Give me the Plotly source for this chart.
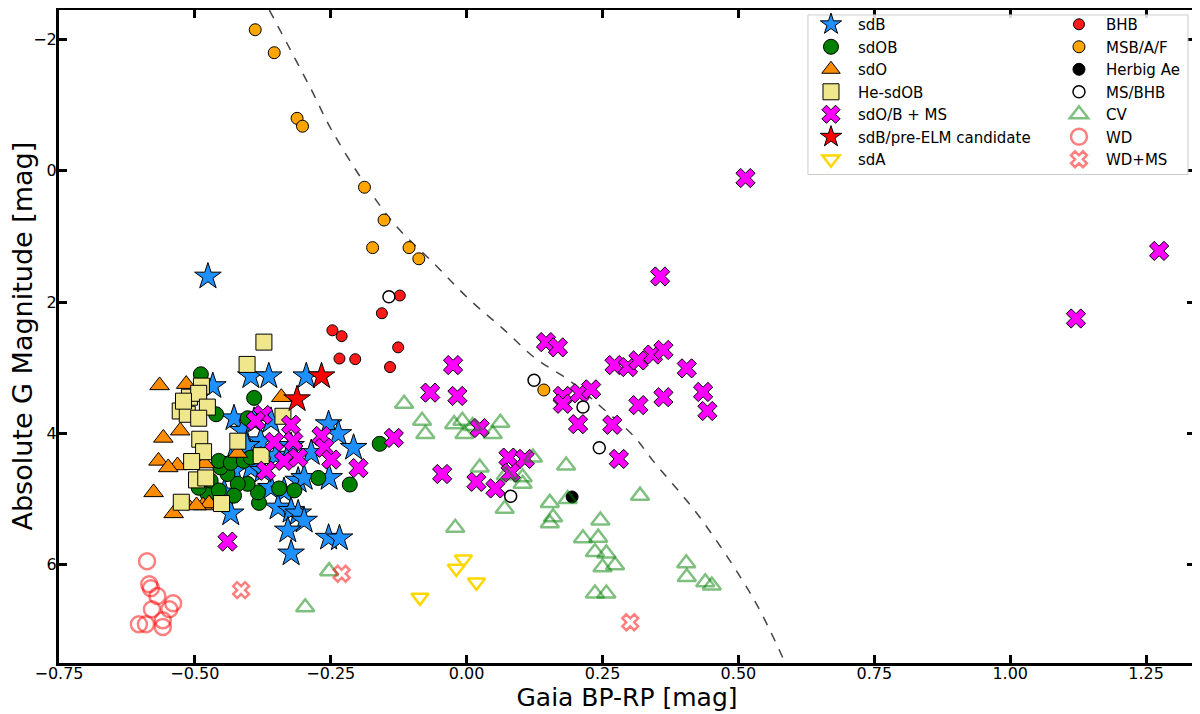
import plotly.graph_objects as go

# ---- data ---------------------------------------------------------------
sdb_x = [-0.476, -0.397, -0.364, -0.295, -0.467, -0.428, -0.412, -0.391, -0.360, -0.254,
         -0.236, -0.208, -0.286, -0.434, -0.428, -0.397, -0.360, -0.336, -0.310, -0.299,
         -0.253, -0.434, -0.347, -0.323, -0.310, -0.299, -0.329, -0.254, -0.234, -0.323,
         -0.446, -0.379, -0.351, -0.405, -0.323, -0.375]
sdb_y = [1.61, 3.13, 3.13, 3.13, 3.28, 3.77, 3.96, 3.81, 3.81, 3.86,
         4.01, 4.22, 4.30, 4.42, 4.57, 4.53, 4.83, 4.88, 4.72, 4.68,
         4.68, 5.22, 5.13, 5.18, 5.22, 5.33, 5.48, 5.59, 5.60, 5.83,
         4.90, 4.12, 4.34, 4.19, 4.19, 4.57]

sdob_x = [-0.489, -0.461, -0.391, -0.403, -0.160, -0.215, -0.273, -0.317, -0.345, -0.382,
          -0.384, -0.403, -0.421, -0.440, -0.453, -0.456, -0.434, -0.410, -0.397, -0.477,
          -0.471, -0.428, -0.456, -0.493]
sdob_y = [3.10, 3.71, 3.46, 3.77, 4.16, 4.78, 4.68, 4.87, 4.84, 5.06,
          4.90, 4.77, 4.77, 4.62, 4.52, 4.42, 4.45, 4.42, 4.37, 4.92,
          4.72, 4.95, 4.87, 4.83]

sdo_x = [-0.565, -0.516, -0.558, -0.567, -0.532, -0.549, -0.527, -0.576, -0.539, -0.485,
         -0.474, -0.341, -0.421, -0.516, -0.497, -0.482]
sdo_y = [3.27, 3.25, 4.07, 4.42, 4.49, 4.52, 3.96, 4.90, 5.22, 5.10,
         5.07, 3.45, 4.30, 5.07, 5.10, 4.46]

hesdob_x = [-0.373, -0.404, -0.488, -0.510, -0.493, -0.477, -0.527, -0.514, -0.493, -0.491,
            -0.484, -0.506, -0.497, -0.480, -0.421, -0.378, -0.338, -0.525, -0.451, -0.521]
hesdob_y = [2.61, 2.95, 3.28, 3.45, 3.39, 3.60, 3.66, 3.71, 3.77, 4.09,
            4.28, 4.43, 4.71, 4.68, 4.12, 4.34, 3.74, 5.05, 5.07, 3.51]

sdobms_x = [0.513, 1.274, 1.121, 0.356, 0.146, 0.168, -0.025, -0.067, -0.017, 0.272,
            0.297, 0.316, 0.343, 0.362, 0.405, 0.177, 0.177, 0.208, 0.229, 0.316,
            0.362, 0.435, 0.443, 0.205, 0.268, 0.280, 0.024, -0.134, 0.077, 0.107,
            0.081, -0.045, 0.018, 0.053, -0.375, -0.388, -0.323, -0.354, -0.319, -0.267,
            -0.262, -0.249, -0.336, -0.310, -0.369, -0.199, -0.440]
sdobms_y = [0.11, 1.22, 2.25, 1.61, 2.61, 2.69, 2.96, 3.38, 3.43, 2.96,
            2.99, 2.89, 2.80, 2.73, 3.01, 3.43, 3.55, 3.39, 3.33, 3.57,
            3.45, 3.37, 3.66, 3.86, 3.87, 4.39, 3.92, 4.07, 4.37, 4.39,
            4.60, 4.62, 4.74, 4.84, 3.72, 3.81, 3.87, 4.13, 4.12, 4.04,
            4.22, 4.40, 4.42, 4.37, 4.57, 4.53, 5.65]

elm_x = [-0.267, -0.312]
elm_y = [3.13, 3.48]

sda_x = [-0.006, -0.019, 0.018, -0.086]
sda_y = [5.92, 6.06, 6.27, 6.50]

bhb_x = [-0.247, -0.230, -0.234, -0.205, -0.156, -0.123, -0.126, -0.141]
bhb_y = [2.43, 2.52, 2.86, 2.87, 2.17, 1.90, 2.69, 2.99]

msbaf_x = [-0.389, -0.354, -0.312, -0.302, -0.188, -0.152, -0.173, -0.106, -0.088, 0.142]
msbaf_y = [-2.15, -1.80, -0.80, -0.68, 0.25, 0.75, 1.17, 1.17, 1.34, 3.34]

herbig_x = [0.194]
herbig_y = [4.97]

msbhb_x = [-0.143, 0.124, 0.214, 0.244, 0.081]
msbhb_y = [1.92, 3.19, 3.60, 4.22, 4.96]

cv_x = [-0.115, -0.082, -0.076, -0.023, -0.008, -0.004, 0.011, 0.048, 0.062, 0.024,
        0.072, 0.103, 0.122, 0.103, 0.183, 0.153, 0.186, 0.070, -0.021, 0.159,
        0.153, 0.246, 0.214, 0.242, 0.236, 0.257, 0.273, 0.250, 0.319, 0.404,
        0.405, 0.439, 0.451, 0.236, 0.257, -0.297, -0.253]
cv_y = [3.55, 3.81, 4.01, 3.86, 3.81, 4.01, 3.89, 4.01, 3.84, 4.52,
        4.64, 4.67, 4.37, 4.77, 4.49, 5.06, 5.00, 5.15, 5.44, 5.28,
        5.37, 5.33, 5.60, 5.59, 5.81, 5.83, 6.01, 6.04, 4.95, 5.98,
        6.19, 6.27, 6.32, 6.44, 6.44, 6.65, 6.10]

wd_x = [-0.588, -0.584, -0.581, -0.569, -0.540, -0.547, -0.579, -0.603, -0.590, -0.559, -0.559]
wd_y = [5.95, 6.30, 6.36, 6.48, 6.59, 6.68, 6.68, 6.91, 6.91, 6.85, 6.95]

wdms_x = [-0.415, -0.230, 0.301]
wdms_y = [6.39, 6.14, 6.88]

# dashed separation curve
curve_x = [-0.363, -0.286, -0.249, -0.193, -0.132, -0.058, 0.005, 0.066, 0.127, 0.190,
           0.249, 0.307, 0.343, 0.429, 0.529, 0.586]
curve_y = [-2.45, -1.24, -0.63, 0.125, 0.82, 1.43, 1.96, 2.40, 2.86, 3.20,
           3.61, 4.04, 4.42, 5.28, 6.54, 7.50]

FONT = "DejaVu Sans"
EDGE = dict(color="black", width=1)

# name, x, y, symbol, size, fill, line, legend, rank
groups = [
    ("sdB", sdb_x, sdb_y, "star", 20, "#1E90FF", EDGE, "legend", 1),
    ("sdOB", sdob_x, sdob_y, "circle", 15, "#008000", EDGE, "legend", 2),
    ("sdO", sdo_x, sdo_y, "triangle-up", 17, "#FF8C00", EDGE, "legend", 3),
    ("He-sdOB", hesdob_x, hesdob_y, "square", 16, "#F0E68C", EDGE, "legend", 4),
    ("sdO/B + MS", sdobms_x, sdobms_y, "x", 17, "#FF00FF", EDGE, "legend", 5),
    ("sdB/pre-ELM candidate", elm_x, elm_y, "star", 20, "#FF0000", EDGE, "legend", 6),
    ("sdA", sda_x, sda_y, "triangle-down-open", 15, "#FFD700",
     dict(color="#FFD700", width=2.5), "legend", 7),
    ("BHB", bhb_x, bhb_y, "circle", 11, "#FF1A1A", EDGE, "legend2", 8),
    ("MSB/A/F", msbaf_x, msbaf_y, "circle", 12, "#FFA500", EDGE, "legend2", 9),
    ("Herbig Ae", herbig_x, herbig_y, "circle", 12, "black", EDGE, "legend2", 10),
    ("MS/BHB", msbhb_x, msbhb_y, "circle", 12, "white",
     dict(color="black", width=1.5), "legend2", 11),
    ("CV", cv_x, cv_y, "triangle-up-open", 16, "rgba(0,128,0,0.5)",
     dict(color="rgba(0,128,0,0.5)", width=2.5), "legend2", 12),
    ("WD", wd_x, wd_y, "circle-open", 16, "rgba(255,0,0,0.5)",
     dict(color="rgba(255,0,0,0.5)", width=2.5), "legend2", 13),
    ("WD+MS", wdms_x, wdms_y, "x-open", 14, "rgba(255,0,0,0.5)",
     dict(color="rgba(255,0,0,0.5)", width=2.5), "legend2", 14),
]

fig = go.Figure()

fig.add_trace(go.Scatter(
    x=curve_x, y=curve_y, mode="lines", showlegend=False,
    line=dict(color="#444444", width=1.5, dash="dash", shape="spline"),
    hoverinfo="skip",
))

for name, xs, ys, sym, size, fill, line, leg, rank in groups:
    fig.add_trace(go.Scatter(
        x=xs, y=ys, mode="markers", name=name,
        marker=dict(symbol=sym, size=size, color=fill, line=line),
        legend=leg, legendrank=rank,
    ))

# legend frame (two legends drawn on top of one box)
fig.add_shape(
    type="rect", xref="paper", yref="paper", layer="above",
    x0=0.6593, x1=0.9938, y0=0.7481, y1=0.9924,
    line=dict(color="#cccccc", width=1), fillcolor="rgba(255,255,255,0.85)",
)

# y-axis title as a rotated annotation so it can sit close to the page edge
fig.add_annotation(
    text="Absolute G Magnitude [mag]", textangle=-90,
    xref="paper", yref="paper", x=0, y=0.5, xanchor="center", yanchor="middle",
    xshift=-37, showarrow=False, font=dict(family=FONT, size=27, color="black"),
)

axis_common = dict(
    showline=True, linecolor="black", linewidth=3, mirror="ticks",
    ticks="inside", ticklen=8, tickwidth=2.5, tickcolor="black",
    showgrid=False, zeroline=False, automargin=False,
    tickfont=dict(family=FONT, size=16, color="black"),
)

leg_common = dict(
    orientation="v", bgcolor="rgba(0,0,0,0)", borderwidth=0,
    font=dict(family=FONT, size=15, color="black"),
    itemsizing="trace", itemwidth=44, yanchor="top", xanchor="left",
    tracegroupgap=0,
)

# page body adds an 8px offset, so the figure is 8px smaller on each axis
fig.update_layout(
    width=1192, height=706,
    margin=dict(l=51, r=5, t=0, b=51),
    plot_bgcolor="white", paper_bgcolor="white",
    font=dict(family=FONT, color="black"),
    xaxis=dict(
        range=[-0.75, 1.34], tickvals=[-0.75, -0.5, -0.25, 0, 0.25, 0.5, 0.75, 1.0, 1.25],
        tickformat=".2f", ticklabelstandoff=-6,
        title=dict(text="Gaia BP-RP [mag]", font=dict(family=FONT, size=25), standoff=4),
        **axis_common,
    ),
    yaxis=dict(
        range=[7.5, -2.451], tickvals=[-2, 0, 2, 4, 6], ticklabelstandoff=-4,
        **axis_common,
    ),
    legend=dict(x=0.6558, y=1.003, **leg_common),
    legend2=dict(x=0.8741, y=1.003, **leg_common),
    showlegend=True,
)

fig.write_html("out.html")
